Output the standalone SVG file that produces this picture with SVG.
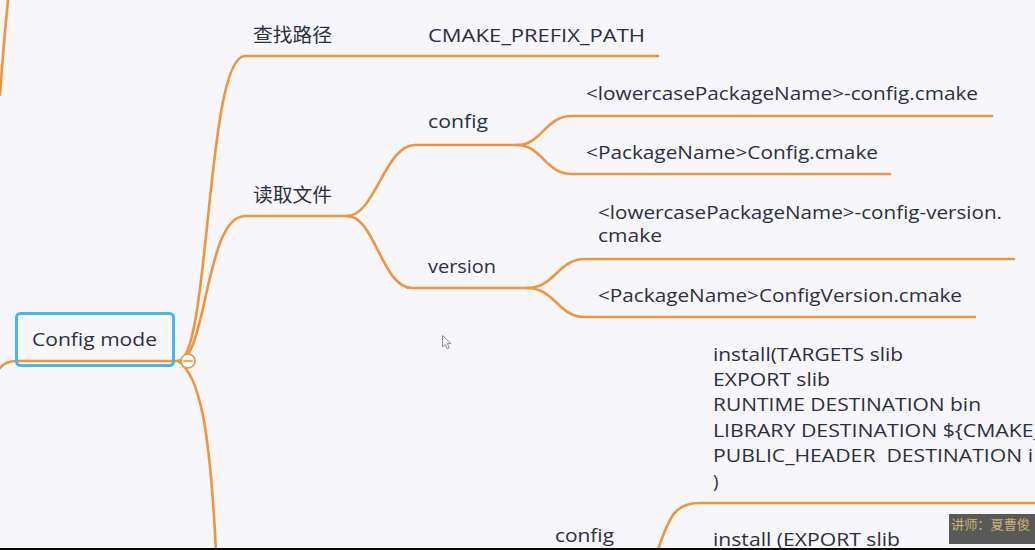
<svg xmlns="http://www.w3.org/2000/svg" width="1035" height="550" viewBox="0 0 1035 550">
<defs>
<style>
.bg{fill:#f7f6fb}
.ln{fill:none;stroke:#f0953c;stroke-width:2.6;stroke-linecap:round}
.t{font-family:"Open Sans","Noto Sans",sans-serif;font-size:18.5px;fill:#2d2f3c}
.cj{font-family:"Noto Sans CJK SC","Noto Sans",sans-serif;font-size:19px;fill:#2d2f3c}
.wm{font-family:"Noto Sans CJK SC",sans-serif;font-size:13px;fill:#c9b46e}
</style>
</defs>
<rect class="bg" x="0" y="0" width="1035" height="550"/>
<g id="connectors">
<path class="ln" d="M8,0 Q3,50 0,95"/>
<path class="ln" d="M0,368 C5,362 10,361 16,361 L176,361"/>
<path class="ln" d="M178,361 C210,361 206,56 245,56 L658,56"/>
<path class="ln" d="M178,361 C207,361 205,216 245,216 L347,216"/>
<path class="ln" d="M178,361 C200,375 210,430 216,552"/>
<path class="ln" d="M347,216 C375,216 385,145 415,145 L517,145"/>
<path class="ln" d="M347,216 C375,216 382,288 412,288 L527,288"/>
<path class="ln" d="M517,145 C542,145 545,116 572,116 L992,116"/>
<path class="ln" d="M517,145 C542,145 545,174 572,174 L890,174"/>
<path class="ln" d="M527,288 C555,288 558,259 585,259 L1014,259"/>
<path class="ln" d="M527,288 C555,288 558,317 585,317 L975,317"/>
<path class="ln" d="M657,552 C670,515 675,503 700,503 L1036,503"/>
</g>
<g id="root">
<rect x="16.5" y="313.5" width="157" height="52" rx="4" fill="none" stroke="#47b6ea" stroke-width="3"/>
<text class="t" x="32" y="346" textLength="125" lengthAdjust="spacingAndGlyphs">Config mode</text>
<circle cx="188" cy="361" r="7" fill="#fbfafd" stroke="#f0953c" stroke-width="1.6"/>
<line x1="183.5" y1="361" x2="192.5" y2="361" stroke="#f0953c" stroke-width="1.6"/>
</g>
<g id="n-search">
<text class="cj" x="253" y="42" textLength="79" lengthAdjust="spacingAndGlyphs">查找路径</text>
</g>
<g id="n-prefix">
<text class="t" x="428" y="42" textLength="217" lengthAdjust="spacingAndGlyphs">CMAKE_PREFIX_PATH</text>
</g>
<g id="n-read">
<text class="cj" x="253" y="202" textLength="79" lengthAdjust="spacingAndGlyphs">读取文件</text>
</g>
<g id="n-config">
<text class="t" x="428" y="128" textLength="60" lengthAdjust="spacingAndGlyphs">config</text>
</g>
<g id="n-lower-config">
<text class="t" x="586" y="100" textLength="392" lengthAdjust="spacingAndGlyphs">&lt;lowercasePackageName&gt;-config.cmake</text>
</g>
<g id="n-pkg-config">
<text class="t" x="586" y="159" textLength="292" lengthAdjust="spacingAndGlyphs">&lt;PackageName&gt;Config.cmake</text>
</g>
<g id="n-version">
<text class="t" x="428" y="273" textLength="68" lengthAdjust="spacingAndGlyphs">version</text>
</g>
<g id="n-lower-version">
<text class="t" x="598" y="219" textLength="404" lengthAdjust="spacingAndGlyphs">&lt;lowercasePackageName&gt;-config-version.</text>
<text class="t" x="598" y="242" textLength="64" lengthAdjust="spacingAndGlyphs">cmake</text>
</g>
<g id="n-pkg-version">
<text class="t" x="598" y="302" textLength="364" lengthAdjust="spacingAndGlyphs">&lt;PackageName&gt;ConfigVersion.cmake</text>
</g>
<g id="n-install-targets">
<text class="t" x="713" y="361" textLength="190" lengthAdjust="spacingAndGlyphs">install(TARGETS slib</text>
<text class="t" x="713" y="386" textLength="117" lengthAdjust="spacingAndGlyphs">EXPORT slib</text>
<text class="t" x="713" y="411" textLength="268" lengthAdjust="spacingAndGlyphs">RUNTIME DESTINATION bin</text>
<text class="t" x="713" y="437" textLength="330" lengthAdjust="spacingAndGlyphs">LIBRARY DESTINATION ${CMAKE_</text>
<text class="t" x="713" y="462" xml:space="preserve" textLength="320" lengthAdjust="spacingAndGlyphs">PUBLIC_HEADER  DESTINATION i</text>
<text class="t" x="713" y="488">)</text>
</g>
<g id="n-config2">
<text class="t" x="555" y="542" textLength="59" lengthAdjust="spacingAndGlyphs">config</text>
</g>
<g id="n-install-export">
<text class="t" x="713" y="546" textLength="187" lengthAdjust="spacingAndGlyphs">install (EXPORT slib</text>
</g>
<g id="cursor">
<path d="M442.5,335.5 L442.5,347 L445.2,344.5 L447.2,348.8 L449.2,347.9 L447.3,343.6 L451,343.6 Z" fill="#ffffff" stroke="#8a8a8a" stroke-width="1"/>
</g>
<g id="watermark">
<rect x="949" y="514" width="86" height="30" fill="#595959"/>
<text class="wm" x="951" y="529" textLength="79" lengthAdjust="spacingAndGlyphs">讲师：夏曹俊</text>
</g>
<rect x="0" y="548" width="1035" height="2" fill="#000000"/>
</svg>
